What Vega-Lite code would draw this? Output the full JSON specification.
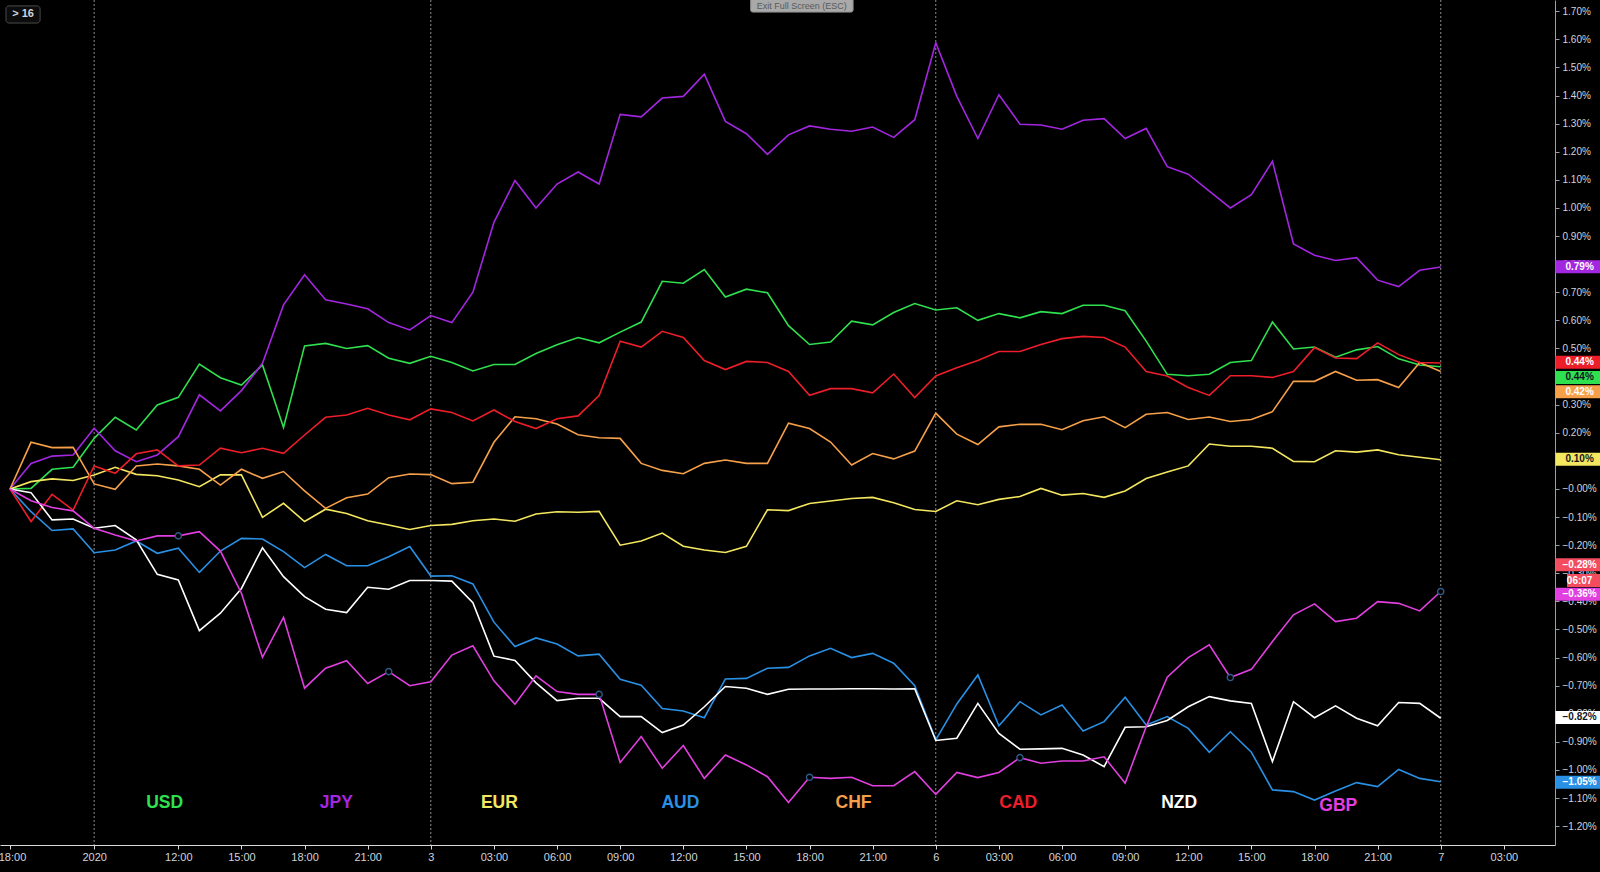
{
"$schema": "https://vega.github.io/schema/vega-lite/v6.json",
"width": 1555, "height": 845,
"padding": {"left": 0, "top": 0, "right": 45, "bottom": 27},
"autosize": {"type": "none"},
"background": "#000000",
"config": {"view": {"stroke": null}, "scale": {"continuousPadding": 0}, "axis": {"labelOverlap": false}, "axisY": {"labelOverlap": false, "tickCount": 30}},
"datasets": {
"series": [
{"c":"USD","i":0,"v":0},{"c":"USD","i":1,"v":0.002},{"c":"USD","i":2,"v":0.07},{"c":"USD","i":3,"v":0.077},{"c":"USD","i":4,"v":0.18},{"c":"USD","i":5,"v":0.255},{"c":"USD","i":6,"v":0.21},{"c":"USD","i":7,"v":0.299},{"c":"USD","i":8,"v":0.326},{"c":"USD","i":9,"v":0.444},
{"c":"USD","i":10,"v":0.396},{"c":"USD","i":11,"v":0.37},{"c":"USD","i":12,"v":0.441},{"c":"USD","i":13,"v":0.219},{"c":"USD","i":14,"v":0.509},{"c":"USD","i":15,"v":0.518},{"c":"USD","i":16,"v":0.5},{"c":"USD","i":17,"v":0.51},{"c":"USD","i":18,"v":0.465},{"c":"USD","i":19,"v":0.447},
{"c":"USD","i":20,"v":0.472},{"c":"USD","i":21,"v":0.45},{"c":"USD","i":22,"v":0.42},{"c":"USD","i":23,"v":0.443},{"c":"USD","i":24,"v":0.443},{"c":"USD","i":25,"v":0.482},{"c":"USD","i":26,"v":0.513},{"c":"USD","i":27,"v":0.539},{"c":"USD","i":28,"v":0.52},{"c":"USD","i":29,"v":0.558},
{"c":"USD","i":30,"v":0.594},{"c":"USD","i":31,"v":0.739},{"c":"USD","i":32,"v":0.732},{"c":"USD","i":33,"v":0.781},{"c":"USD","i":34,"v":0.683},{"c":"USD","i":35,"v":0.711},{"c":"USD","i":36,"v":0.698},{"c":"USD","i":37,"v":0.581},{"c":"USD","i":38,"v":0.514},{"c":"USD","i":39,"v":0.523},
{"c":"USD","i":40,"v":0.597},{"c":"USD","i":41,"v":0.584},{"c":"USD","i":42,"v":0.628},{"c":"USD","i":43,"v":0.66},{"c":"USD","i":44,"v":0.637},{"c":"USD","i":45,"v":0.645},{"c":"USD","i":46,"v":0.6},{"c":"USD","i":47,"v":0.624},{"c":"USD","i":48,"v":0.609},{"c":"USD","i":49,"v":0.631},
{"c":"USD","i":50,"v":0.624},{"c":"USD","i":51,"v":0.654},{"c":"USD","i":52,"v":0.654},{"c":"USD","i":53,"v":0.634},{"c":"USD","i":54,"v":0.526},{"c":"USD","i":55,"v":0.408},{"c":"USD","i":56,"v":0.403},{"c":"USD","i":57,"v":0.408},{"c":"USD","i":58,"v":0.45},{"c":"USD","i":59,"v":0.457},
{"c":"USD","i":60,"v":0.594},{"c":"USD","i":61,"v":0.498},{"c":"USD","i":62,"v":0.505},{"c":"USD","i":63,"v":0.469},{"c":"USD","i":64,"v":0.495},{"c":"USD","i":65,"v":0.507},{"c":"USD","i":66,"v":0.463},{"c":"USD","i":67,"v":0.441},{"c":"USD","i":68,"v":0.435},
{"c":"JPY","i":0,"v":0},{"c":"JPY","i":1,"v":0.091},{"c":"JPY","i":2,"v":0.117},{"c":"JPY","i":3,"v":0.121},{"c":"JPY","i":4,"v":0.216},{"c":"JPY","i":5,"v":0.136},{"c":"JPY","i":6,"v":0.097},{"c":"JPY","i":7,"v":0.121},{"c":"JPY","i":8,"v":0.186},{"c":"JPY","i":9,"v":0.335},
{"c":"JPY","i":10,"v":0.278},{"c":"JPY","i":11,"v":0.35},{"c":"JPY","i":12,"v":0.447},{"c":"JPY","i":13,"v":0.655},{"c":"JPY","i":14,"v":0.762},{"c":"JPY","i":15,"v":0.673},{"c":"JPY","i":16,"v":0.658},{"c":"JPY","i":17,"v":0.641},{"c":"JPY","i":18,"v":0.592},{"c":"JPY","i":19,"v":0.566},
{"c":"JPY","i":20,"v":0.617},{"c":"JPY","i":21,"v":0.592},{"c":"JPY","i":22,"v":0.7},{"c":"JPY","i":23,"v":0.949},{"c":"JPY","i":24,"v":1.098},{"c":"JPY","i":25,"v":1.0},{"c":"JPY","i":26,"v":1.085},{"c":"JPY","i":27,"v":1.128},{"c":"JPY","i":28,"v":1.085},{"c":"JPY","i":29,"v":1.333},
{"c":"JPY","i":30,"v":1.324},{"c":"JPY","i":31,"v":1.391},{"c":"JPY","i":32,"v":1.397},{"c":"JPY","i":33,"v":1.476},{"c":"JPY","i":34,"v":1.308},{"c":"JPY","i":35,"v":1.264},{"c":"JPY","i":36,"v":1.191},{"c":"JPY","i":37,"v":1.26},{"c":"JPY","i":38,"v":1.292},{"c":"JPY","i":39,"v":1.28},
{"c":"JPY","i":40,"v":1.273},{"c":"JPY","i":41,"v":1.288},{"c":"JPY","i":42,"v":1.251},{"c":"JPY","i":43,"v":1.314},{"c":"JPY","i":44,"v":1.588},{"c":"JPY","i":45,"v":1.397},{"c":"JPY","i":46,"v":1.247},{"c":"JPY","i":47,"v":1.403},{"c":"JPY","i":48,"v":1.298},{"c":"JPY","i":49,"v":1.295},
{"c":"JPY","i":50,"v":1.28},{"c":"JPY","i":51,"v":1.312},{"c":"JPY","i":52,"v":1.318},{"c":"JPY","i":53,"v":1.247},{"c":"JPY","i":54,"v":1.283},{"c":"JPY","i":55,"v":1.147},{"c":"JPY","i":56,"v":1.12},{"c":"JPY","i":57,"v":1.06},{"c":"JPY","i":58,"v":1.0},{"c":"JPY","i":59,"v":1.047},
{"c":"JPY","i":60,"v":1.166},{"c":"JPY","i":61,"v":0.872},{"c":"JPY","i":62,"v":0.832},{"c":"JPY","i":63,"v":0.813},{"c":"JPY","i":64,"v":0.823},{"c":"JPY","i":65,"v":0.743},{"c":"JPY","i":66,"v":0.72},{"c":"JPY","i":67,"v":0.778},{"c":"JPY","i":68,"v":0.79},
{"c":"EUR","i":0,"v":0},{"c":"EUR","i":1,"v":0.026},{"c":"EUR","i":2,"v":0.036},{"c":"EUR","i":3,"v":0.03},{"c":"EUR","i":4,"v":0.05},{"c":"EUR","i":5,"v":0.077},{"c":"EUR","i":6,"v":0.052},{"c":"EUR","i":7,"v":0.047},{"c":"EUR","i":8,"v":0.032},{"c":"EUR","i":9,"v":0.008},
{"c":"EUR","i":10,"v":0.05},{"c":"EUR","i":11,"v":0.05},{"c":"EUR","i":12,"v":-0.101},{"c":"EUR","i":13,"v":-0.051},{"c":"EUR","i":14,"v":-0.116},{"c":"EUR","i":15,"v":-0.072},{"c":"EUR","i":16,"v":-0.087},{"c":"EUR","i":17,"v":-0.113},{"c":"EUR","i":18,"v":-0.128},{"c":"EUR","i":19,"v":-0.144},
{"c":"EUR","i":20,"v":-0.13},{"c":"EUR","i":21,"v":-0.126},{"c":"EUR","i":22,"v":-0.113},{"c":"EUR","i":23,"v":-0.107},{"c":"EUR","i":24,"v":-0.115},{"c":"EUR","i":25,"v":-0.089},{"c":"EUR","i":26,"v":-0.081},{"c":"EUR","i":27,"v":-0.083},{"c":"EUR","i":28,"v":-0.08},{"c":"EUR","i":29,"v":-0.2},
{"c":"EUR","i":30,"v":-0.185},{"c":"EUR","i":31,"v":-0.157},{"c":"EUR","i":32,"v":-0.204},{"c":"EUR","i":33,"v":-0.217},{"c":"EUR","i":34,"v":-0.226},{"c":"EUR","i":35,"v":-0.204},{"c":"EUR","i":36,"v":-0.074},{"c":"EUR","i":37,"v":-0.077},{"c":"EUR","i":38,"v":-0.052},{"c":"EUR","i":39,"v":-0.043},
{"c":"EUR","i":40,"v":-0.034},{"c":"EUR","i":41,"v":-0.03},{"c":"EUR","i":42,"v":-0.049},{"c":"EUR","i":43,"v":-0.073},{"c":"EUR","i":44,"v":-0.08},{"c":"EUR","i":45,"v":-0.042},{"c":"EUR","i":46,"v":-0.056},{"c":"EUR","i":47,"v":-0.037},{"c":"EUR","i":48,"v":-0.027},{"c":"EUR","i":49,"v":0.002},
{"c":"EUR","i":50,"v":-0.022},{"c":"EUR","i":51,"v":-0.016},{"c":"EUR","i":52,"v":-0.03},{"c":"EUR","i":53,"v":-0.007},{"c":"EUR","i":54,"v":0.037},{"c":"EUR","i":55,"v":0.06},{"c":"EUR","i":56,"v":0.082},{"c":"EUR","i":57,"v":0.16},{"c":"EUR","i":58,"v":0.152},{"c":"EUR","i":59,"v":0.152},
{"c":"EUR","i":60,"v":0.145},{"c":"EUR","i":61,"v":0.098},{"c":"EUR","i":62,"v":0.097},{"c":"EUR","i":63,"v":0.136},{"c":"EUR","i":64,"v":0.131},{"c":"EUR","i":65,"v":0.139},{"c":"EUR","i":66,"v":0.122},{"c":"EUR","i":67,"v":0.113},{"c":"EUR","i":68,"v":0.104},
{"c":"AUD","i":0,"v":0},{"c":"AUD","i":1,"v":-0.081},{"c":"AUD","i":2,"v":-0.148},{"c":"AUD","i":3,"v":-0.142},{"c":"AUD","i":4,"v":-0.227},{"c":"AUD","i":5,"v":-0.217},{"c":"AUD","i":6,"v":-0.185},{"c":"AUD","i":7,"v":-0.229},{"c":"AUD","i":8,"v":-0.211},{"c":"AUD","i":9,"v":-0.297},
{"c":"AUD","i":10,"v":-0.221},{"c":"AUD","i":11,"v":-0.176},{"c":"AUD","i":12,"v":-0.178},{"c":"AUD","i":13,"v":-0.223},{"c":"AUD","i":14,"v":-0.28},{"c":"AUD","i":15,"v":-0.233},{"c":"AUD","i":16,"v":-0.273},{"c":"AUD","i":17,"v":-0.273},{"c":"AUD","i":18,"v":-0.241},{"c":"AUD","i":19,"v":-0.205},
{"c":"AUD","i":20,"v":-0.31},{"c":"AUD","i":21,"v":-0.309},{"c":"AUD","i":22,"v":-0.338},{"c":"AUD","i":23,"v":-0.474},{"c":"AUD","i":24,"v":-0.561},{"c":"AUD","i":25,"v":-0.53},{"c":"AUD","i":26,"v":-0.552},{"c":"AUD","i":27,"v":-0.594},{"c":"AUD","i":28,"v":-0.588},{"c":"AUD","i":29,"v":-0.677},
{"c":"AUD","i":30,"v":-0.698},{"c":"AUD","i":31,"v":-0.781},{"c":"AUD","i":32,"v":-0.79},{"c":"AUD","i":33,"v":-0.814},{"c":"AUD","i":34,"v":-0.676},{"c":"AUD","i":35,"v":-0.674},{"c":"AUD","i":36,"v":-0.638},{"c":"AUD","i":37,"v":-0.635},{"c":"AUD","i":38,"v":-0.594},{"c":"AUD","i":39,"v":-0.567},
{"c":"AUD","i":40,"v":-0.6},{"c":"AUD","i":41,"v":-0.585},{"c":"AUD","i":42,"v":-0.62},{"c":"AUD","i":43,"v":-0.7},{"c":"AUD","i":44,"v":-0.893},{"c":"AUD","i":45,"v":-0.765},{"c":"AUD","i":46,"v":-0.662},{"c":"AUD","i":47,"v":-0.843},{"c":"AUD","i":48,"v":-0.757},{"c":"AUD","i":49,"v":-0.804},
{"c":"AUD","i":50,"v":-0.769},{"c":"AUD","i":51,"v":-0.861},{"c":"AUD","i":52,"v":-0.828},{"c":"AUD","i":53,"v":-0.741},{"c":"AUD","i":54,"v":-0.84},{"c":"AUD","i":55,"v":-0.81},{"c":"AUD","i":56,"v":-0.852},{"c":"AUD","i":57,"v":-0.937},{"c":"AUD","i":58,"v":-0.864},{"c":"AUD","i":59,"v":-0.937},
{"c":"AUD","i":60,"v":-1.071},{"c":"AUD","i":61,"v":-1.077},{"c":"AUD","i":62,"v":-1.107},{"c":"AUD","i":63,"v":-1.075},{"c":"AUD","i":64,"v":-1.045},{"c":"AUD","i":65,"v":-1.059},{"c":"AUD","i":66,"v":-0.998},{"c":"AUD","i":67,"v":-1.03},{"c":"AUD","i":68,"v":-1.042},
{"c":"CHF","i":0,"v":0},{"c":"CHF","i":1,"v":0.166},{"c":"CHF","i":2,"v":0.147},{"c":"CHF","i":3,"v":0.148},{"c":"CHF","i":4,"v":0.018},{"c":"CHF","i":5,"v":-0.001},{"c":"CHF","i":6,"v":0.082},{"c":"CHF","i":7,"v":0.089},{"c":"CHF","i":8,"v":0.082},{"c":"CHF","i":9,"v":0.07},
{"c":"CHF","i":10,"v":0.014},{"c":"CHF","i":11,"v":0.07},{"c":"CHF","i":12,"v":0.038},{"c":"CHF","i":13,"v":0.062},{"c":"CHF","i":14,"v":-0.007},{"c":"CHF","i":15,"v":-0.069},{"c":"CHF","i":16,"v":-0.031},{"c":"CHF","i":17,"v":-0.018},{"c":"CHF","i":18,"v":0.04},{"c":"CHF","i":19,"v":0.053},
{"c":"CHF","i":20,"v":0.051},{"c":"CHF","i":21,"v":0.019},{"c":"CHF","i":22,"v":0.024},{"c":"CHF","i":23,"v":0.166},{"c":"CHF","i":24,"v":0.257},{"c":"CHF","i":25,"v":0.25},{"c":"CHF","i":26,"v":0.231},{"c":"CHF","i":27,"v":0.193},{"c":"CHF","i":28,"v":0.182},{"c":"CHF","i":29,"v":0.18},
{"c":"CHF","i":30,"v":0.091},{"c":"CHF","i":31,"v":0.066},{"c":"CHF","i":32,"v":0.054},{"c":"CHF","i":33,"v":0.091},{"c":"CHF","i":34,"v":0.103},{"c":"CHF","i":35,"v":0.091},{"c":"CHF","i":36,"v":0.091},{"c":"CHF","i":37,"v":0.234},{"c":"CHF","i":38,"v":0.215},{"c":"CHF","i":39,"v":0.167},
{"c":"CHF","i":40,"v":0.085},{"c":"CHF","i":41,"v":0.126},{"c":"CHF","i":42,"v":0.107},{"c":"CHF","i":43,"v":0.135},{"c":"CHF","i":44,"v":0.27},{"c":"CHF","i":45,"v":0.195},{"c":"CHF","i":46,"v":0.158},{"c":"CHF","i":47,"v":0.221},{"c":"CHF","i":48,"v":0.23},{"c":"CHF","i":49,"v":0.23},
{"c":"CHF","i":50,"v":0.211},{"c":"CHF","i":51,"v":0.243},{"c":"CHF","i":52,"v":0.257},{"c":"CHF","i":53,"v":0.218},{"c":"CHF","i":54,"v":0.266},{"c":"CHF","i":55,"v":0.272},{"c":"CHF","i":56,"v":0.247},{"c":"CHF","i":57,"v":0.256},{"c":"CHF","i":58,"v":0.24},{"c":"CHF","i":59,"v":0.247},
{"c":"CHF","i":60,"v":0.275},{"c":"CHF","i":61,"v":0.383},{"c":"CHF","i":62,"v":0.383},{"c":"CHF","i":63,"v":0.418},{"c":"CHF","i":64,"v":0.387},{"c":"CHF","i":65,"v":0.389},{"c":"CHF","i":66,"v":0.361},{"c":"CHF","i":67,"v":0.45},{"c":"CHF","i":68,"v":0.418},
{"c":"CAD","i":0,"v":0},{"c":"CAD","i":1,"v":-0.116},{"c":"CAD","i":2,"v":-0.019},{"c":"CAD","i":3,"v":-0.075},{"c":"CAD","i":4,"v":0.082},{"c":"CAD","i":5,"v":0.056},{"c":"CAD","i":6,"v":0.125},{"c":"CAD","i":7,"v":0.139},{"c":"CAD","i":8,"v":0.082},{"c":"CAD","i":9,"v":0.085},
{"c":"CAD","i":10,"v":0.145},{"c":"CAD","i":11,"v":0.129},{"c":"CAD","i":12,"v":0.145},{"c":"CAD","i":13,"v":0.127},{"c":"CAD","i":14,"v":0.192},{"c":"CAD","i":15,"v":0.255},{"c":"CAD","i":16,"v":0.263},{"c":"CAD","i":17,"v":0.287},{"c":"CAD","i":18,"v":0.263},{"c":"CAD","i":19,"v":0.246},
{"c":"CAD","i":20,"v":0.285},{"c":"CAD","i":21,"v":0.272},{"c":"CAD","i":22,"v":0.242},{"c":"CAD","i":23,"v":0.281},{"c":"CAD","i":24,"v":0.24},{"c":"CAD","i":25,"v":0.215},{"c":"CAD","i":26,"v":0.25},{"c":"CAD","i":27,"v":0.26},{"c":"CAD","i":28,"v":0.332},{"c":"CAD","i":29,"v":0.526},
{"c":"CAD","i":30,"v":0.505},{"c":"CAD","i":31,"v":0.561},{"c":"CAD","i":32,"v":0.539},{"c":"CAD","i":33,"v":0.457},{"c":"CAD","i":34,"v":0.425},{"c":"CAD","i":35,"v":0.454},{"c":"CAD","i":36,"v":0.45},{"c":"CAD","i":37,"v":0.418},{"c":"CAD","i":38,"v":0.333},{"c":"CAD","i":39,"v":0.357},
{"c":"CAD","i":40,"v":0.357},{"c":"CAD","i":41,"v":0.342},{"c":"CAD","i":42,"v":0.409},{"c":"CAD","i":43,"v":0.325},{"c":"CAD","i":44,"v":0.402},{"c":"CAD","i":45,"v":0.431},{"c":"CAD","i":46,"v":0.457},{"c":"CAD","i":47,"v":0.489},{"c":"CAD","i":48,"v":0.489},{"c":"CAD","i":49,"v":0.514},
{"c":"CAD","i":50,"v":0.535},{"c":"CAD","i":51,"v":0.543},{"c":"CAD","i":52,"v":0.539},{"c":"CAD","i":53,"v":0.505},{"c":"CAD","i":54,"v":0.418},{"c":"CAD","i":55,"v":0.402},{"c":"CAD","i":56,"v":0.361},{"c":"CAD","i":57,"v":0.333},{"c":"CAD","i":58,"v":0.403},{"c":"CAD","i":59,"v":0.403},
{"c":"CAD","i":60,"v":0.397},{"c":"CAD","i":61,"v":0.418},{"c":"CAD","i":62,"v":0.503},{"c":"CAD","i":63,"v":0.466},{"c":"CAD","i":64,"v":0.464},{"c":"CAD","i":65,"v":0.52},{"c":"CAD","i":66,"v":0.478},{"c":"CAD","i":67,"v":0.45},{"c":"CAD","i":68,"v":0.448},
{"c":"NZD","i":0,"v":0},{"c":"NZD","i":1,"v":-0.013},{"c":"NZD","i":2,"v":-0.11},{"c":"NZD","i":3,"v":-0.107},{"c":"NZD","i":4,"v":-0.14},{"c":"NZD","i":5,"v":-0.13},{"c":"NZD","i":6,"v":-0.181},{"c":"NZD","i":7,"v":-0.304},{"c":"NZD","i":8,"v":-0.324},{"c":"NZD","i":9,"v":-0.504},
{"c":"NZD","i":10,"v":-0.442},{"c":"NZD","i":11,"v":-0.354},{"c":"NZD","i":12,"v":-0.209},{"c":"NZD","i":13,"v":-0.312},{"c":"NZD","i":14,"v":-0.383},{"c":"NZD","i":15,"v":-0.428},{"c":"NZD","i":16,"v":-0.44},{"c":"NZD","i":17,"v":-0.35},{"c":"NZD","i":18,"v":-0.357},{"c":"NZD","i":19,"v":-0.326},
{"c":"NZD","i":20,"v":-0.326},{"c":"NZD","i":21,"v":-0.328},{"c":"NZD","i":22,"v":-0.405},{"c":"NZD","i":23,"v":-0.595},{"c":"NZD","i":24,"v":-0.61},{"c":"NZD","i":25,"v":-0.69},{"c":"NZD","i":26,"v":-0.753},{"c":"NZD","i":27,"v":-0.745},{"c":"NZD","i":28,"v":-0.745},{"c":"NZD","i":29,"v":-0.81},
{"c":"NZD","i":30,"v":-0.81},{"c":"NZD","i":31,"v":-0.867},{"c":"NZD","i":32,"v":-0.84},{"c":"NZD","i":33,"v":-0.775},{"c":"NZD","i":34,"v":-0.703},{"c":"NZD","i":35,"v":-0.709},{"c":"NZD","i":36,"v":-0.731},{"c":"NZD","i":37,"v":-0.713},{"c":"NZD","i":38,"v":-0.712},{"c":"NZD","i":39,"v":-0.712},
{"c":"NZD","i":40,"v":-0.711},{"c":"NZD","i":41,"v":-0.711},{"c":"NZD","i":42,"v":-0.712},{"c":"NZD","i":43,"v":-0.711},{"c":"NZD","i":44,"v":-0.895},{"c":"NZD","i":45,"v":-0.887},{"c":"NZD","i":46,"v":-0.763},{"c":"NZD","i":47,"v":-0.87},{"c":"NZD","i":48,"v":-0.926},{"c":"NZD","i":49,"v":-0.925},
{"c":"NZD","i":50,"v":-0.923},{"c":"NZD","i":51,"v":-0.947},{"c":"NZD","i":52,"v":-0.988},{"c":"NZD","i":53,"v":-0.848},{"c":"NZD","i":54,"v":-0.846},{"c":"NZD","i":55,"v":-0.824},{"c":"NZD","i":56,"v":-0.775},{"c":"NZD","i":57,"v":-0.739},{"c":"NZD","i":58,"v":-0.754},{"c":"NZD","i":59,"v":-0.763},
{"c":"NZD","i":60,"v":-0.97},{"c":"NZD","i":61,"v":-0.757},{"c":"NZD","i":62,"v":-0.814},{"c":"NZD","i":63,"v":-0.772},{"c":"NZD","i":64,"v":-0.816},{"c":"NZD","i":65,"v":-0.843},{"c":"NZD","i":66,"v":-0.76},{"c":"NZD","i":67,"v":-0.763},{"c":"NZD","i":68,"v":-0.816},
{"c":"GBP","i":0,"v":0},{"c":"GBP","i":1,"v":-0.042},{"c":"GBP","i":2,"v":-0.066},{"c":"GBP","i":3,"v":-0.078},{"c":"GBP","i":4,"v":-0.14},{"c":"GBP","i":5,"v":-0.164},{"c":"GBP","i":6,"v":-0.185},{"c":"GBP","i":7,"v":-0.167},{"c":"GBP","i":8,"v":-0.167},{"c":"GBP","i":9,"v":-0.152},
{"c":"GBP","i":10,"v":-0.221},{"c":"GBP","i":11,"v":-0.371},{"c":"GBP","i":12,"v":-0.599},{"c":"GBP","i":13,"v":-0.457},{"c":"GBP","i":14,"v":-0.709},{"c":"GBP","i":15,"v":-0.638},{"c":"GBP","i":16,"v":-0.611},{"c":"GBP","i":17,"v":-0.692},{"c":"GBP","i":18,"v":-0.65},{"c":"GBP","i":19,"v":-0.7},
{"c":"GBP","i":20,"v":-0.686},{"c":"GBP","i":21,"v":-0.591},{"c":"GBP","i":22,"v":-0.558},{"c":"GBP","i":23,"v":-0.683},{"c":"GBP","i":24,"v":-0.766},{"c":"GBP","i":25,"v":-0.665},{"c":"GBP","i":26,"v":-0.721},{"c":"GBP","i":27,"v":-0.731},{"c":"GBP","i":28,"v":-0.731},{"c":"GBP","i":29,"v":-0.973},
{"c":"GBP","i":30,"v":-0.881},{"c":"GBP","i":31,"v":-0.994},{"c":"GBP","i":32,"v":-0.913},{"c":"GBP","i":33,"v":-1.03},{"c":"GBP","i":34,"v":-0.947},{"c":"GBP","i":35,"v":-0.982},{"c":"GBP","i":36,"v":-1.024},{"c":"GBP","i":37,"v":-1.116},{"c":"GBP","i":38,"v":-1.026},{"c":"GBP","i":39,"v":-1.03},
{"c":"GBP","i":40,"v":-1.026},{"c":"GBP","i":41,"v":-1.056},{"c":"GBP","i":42,"v":-1.056},{"c":"GBP","i":43,"v":-1.006},{"c":"GBP","i":44,"v":-1.087},{"c":"GBP","i":45,"v":-1.009},{"c":"GBP","i":46,"v":-1.027},{"c":"GBP","i":47,"v":-1.009},{"c":"GBP","i":48,"v":-0.956},{"c":"GBP","i":49,"v":-0.976},
{"c":"GBP","i":50,"v":-0.968},{"c":"GBP","i":51,"v":-0.968},{"c":"GBP","i":52,"v":-0.953},{"c":"GBP","i":53,"v":-1.047},{"c":"GBP","i":54,"v":-0.846},{"c":"GBP","i":55,"v":-0.67},{"c":"GBP","i":56,"v":-0.6},{"c":"GBP","i":57,"v":-0.555},{"c":"GBP","i":58,"v":-0.671},{"c":"GBP","i":59,"v":-0.642},
{"c":"GBP","i":60,"v":-0.543},{"c":"GBP","i":61,"v":-0.448},{"c":"GBP","i":62,"v":-0.409},{"c":"GBP","i":63,"v":-0.472},{"c":"GBP","i":64,"v":-0.46},{"c":"GBP","i":65,"v":-0.401},{"c":"GBP","i":66,"v":-0.407},{"c":"GBP","i":67,"v":-0.434},{"c":"GBP","i":68,"v":-0.365}
],
"days": [{"d":4},{"d":20},{"d":44},{"d":68}],
"names": [
{"c":"USD","x":7.35,"y":-1.119},{"c":"JPY","x":15.51,"y":-1.119},{"c":"EUR","x":23.26,"y":-1.119},{"c":"AUD","x":31.86,"y":-1.119},
{"c":"CHF","x":40.09,"y":-1.119},{"c":"CAD","x":47.92,"y":-1.119},{"c":"NZD","x":55.57,"y":-1.119},{"c":"GBP","x":63.13,"y":-1.127}
],
"tags": [
{"c":"JPY","t":"0.79%","at":0.791},{"c":"CAD","t":"0.44%","at":0.451},{"c":"USD","t":"0.44%","at":0.397},{"c":"CHF","t":"0.42%","at":0.346},
{"c":"EUR","t":"0.10%","at":0.106},{"c":"EXT","t":"−0.28%","at":-0.27},{"c":"TMR","t":"06:07","at":-0.326},{"c":"GBP","t":"−0.36%","at":-0.375},
{"c":"NZD","t":"−0.82%","at":-0.813},{"c":"AUD","t":"−1.05%","at":-1.044}
],
"ui": [{"t":"> 16"}],
"chrome": [{"t":"Exit Full Screen (ESC)"}]
},
"layer": [
{
"data": {"name": "days"},
"mark": {"type": "rule", "color": "#8c8c8c", "strokeDash": [2, 2], "strokeWidth": 1},
"encoding": {
"x": {"field": "d", "type": "quantitative",
"scale": {"domain": [-0.475, 73.43], "nice": false, "zero": false, "padding": 0},
"axis": {"title": null, "grid": false,
"values": [0,4,8,11,14,17,20,23,26,29,32,35,38,41,44,47,50,53,56,59,62,65,68,71],
"labelExpr": "['18:00','2020','12:00','15:00','18:00','21:00','3','03:00','06:00','09:00','12:00','15:00','18:00','21:00','6','03:00','06:00','09:00','12:00','15:00','18:00','21:00','7','03:00'][indexof([0,4,8,11,14,17,20,23,26,29,32,35,38,41,44,47,50,53,56,59,62,65,68,71], datum.value)]",
"domainColor": "#d8d8d8", "domainWidth": 1, "tickColor": "#d8d8d8", "tickSize": 4,
"labelColor": "#d1d4dc", "labelFont": "Liberation Sans Narrow, Liberation Sans, sans-serif", "labelFontSize": 11,
"labelPadding": 2, "labelFlush": false, "labelOverlap": false,
"labelOffset": {"condition": {"test": "datum.value == 0", "value": 2}, "value": 0}}}
}
},
{
"data": {"name": "series"},
"mark": {"type": "line", "strokeWidth": 1.6},
"encoding": {
"x": {"field": "i", "type": "quantitative", "scale": {"domain": [-0.475, 73.43], "nice": false, "zero": false, "padding": 0}},
"y": {"field": "v", "type": "quantitative",
"scale": {"domain": [-1.267, 1.74], "nice": false, "zero": false, "padding": 0},
"axis": {"title": null, "orient": "right", "grid": false, "tickCount": 30,
"values": [-1.2,-1.1,-1,-0.9,-0.8,-0.7,-0.6,-0.5,-0.4,-0.3,-0.2,-0.1,0,0.1,0.2,0.3,0.4,0.5,0.6,0.7,0.8,0.9,1,1.1,1.2,1.3,1.4,1.5,1.6,1.7],
"labelExpr": "(datum.value < 0.00001 ? '−' : '') + format(abs(datum.value), '.2f') + '%'",
"domainColor": "#9aa0a6", "tickColor": "#9aa0a6", "tickSize": 4,
"labelColor": "#d1d4dc", "labelFont": "Liberation Sans Narrow, Liberation Sans, sans-serif", "labelFontSize": 10,
"labelPadding": 3, "labelOverlap": false, "labelSeparation": 0, "labelBound": false}},
"color": {"field": "c", "type": "nominal", "legend": null,
"scale": {"domain": ["USD","JPY","EUR","AUD","CHF","CAD","NZD","GBP","EXT","TMR"],
"range": ["#2fe04f","#a326e0","#f4e760","#2a90e4","#f7a04a","#ec1e2a","#ffffff","#e23fe0","#f24c5e","#f24c5e"]}}
}
},
{
"data": {"name": "series"},
"transform": [{"filter": "datum.c == 'GBP' && datum.i % 10 == 8"}],
"mark": {"type": "point", "shape": "circle", "size": 38, "fill": "#000000", "stroke": "#2d5b8a", "strokeWidth": 1.4, "opacity": 1},
"encoding": {
"x": {"field": "i", "type": "quantitative"},
"y": {"field": "v", "type": "quantitative"}
}
},
{
"data": {"name": "names"},
"mark": {"type": "text", "font": "Liberation Sans", "fontSize": 17.5, "fontWeight": "bold", "align": "center", "baseline": "middle"},
"encoding": {
"x": {"field": "x", "type": "quantitative"},
"y": {"field": "y", "type": "quantitative"},
"text": {"field": "c"},
"color": {"field": "c", "type": "nominal", "legend": null}
}
},
{
"data": {"name": "tags"},
"transform": [{"filter": "datum.c != 'TMR'"}],
"mark": {"type": "bar", "orient": "horizontal", "size": 13},
"encoding": {
"x": {"datum": 73.45},
"x2": {"datum": 75.6},
"y": {"field": "at", "type": "quantitative"},
"color": {"field": "c", "type": "nominal", "legend": null}
}
},
{
"data": {"name": "tags"},
"transform": [{"filter": "datum.c == 'TMR'"}],
"mark": {"type": "bar", "orient": "horizontal", "size": 13},
"encoding": {
"x": {"datum": 74.0},
"x2": {"datum": 75.6},
"y": {"field": "at", "type": "quantitative"},
"color": {"field": "c", "type": "nominal", "legend": null}
}
},
{
"data": {"name": "tags"},
"mark": {"type": "text", "font": "Liberation Sans Narrow, Liberation Sans, sans-serif", "fontSize": 10, "fontWeight": "bold", "align": "center", "baseline": "middle"},
"encoding": {
"x": {"datum": 74.6},
"y": {"field": "at", "type": "quantitative"},
"text": {"field": "t"},
"color": {"condition": {"test": "indexof(['USD','EUR','NZD'], datum.c) >= 0", "value": "#131722"}, "value": "#ffffff"}
}
},
{
"data": {"name": "ui"},
"mark": {"type": "rect", "fill": "#0c0c0c", "stroke": "#4a4a4a", "strokeWidth": 1, "cornerRadius": 3},
"encoding": {
"x": {"datum": -0.19}, "x2": {"datum": 1.43},
"y": {"datum": 1.719}, "y2": {"datum": 1.658}
}
},
{
"data": {"name": "ui"},
"mark": {"type": "text", "font": "Liberation Sans", "fontSize": 11, "fontWeight": "bold", "color": "#d1d4dc", "align": "center", "baseline": "middle"},
"encoding": {
"x": {"datum": 0.62}, "y": {"datum": 1.689},
"text": {"field": "t"}
}
},
{
"data": {"name": "chrome"},
"mark": {"type": "rect", "fill": "#a9a9a9", "stroke": "#8a8a8a", "strokeWidth": 1, "cornerRadius": 2},
"encoding": {
"x": {"datum": 35.2}, "x2": {"datum": 40.07},
"y": {"datum": 1.755}, "y2": {"datum": 1.697}
}
},
{
"data": {"name": "chrome"},
"mark": {"type": "text", "font": "Liberation Sans", "fontSize": 9, "color": "#5a5a5a", "align": "center", "baseline": "middle"},
"encoding": {
"x": {"datum": 37.63}, "y": {"datum": 1.72},
"text": {"field": "t"}
}
}
]
}
